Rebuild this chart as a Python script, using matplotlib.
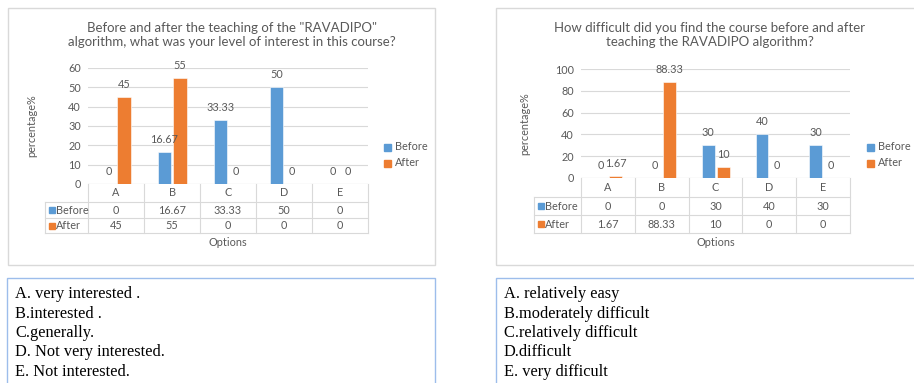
import numpy as np
import matplotlib.pyplot as plt
from matplotlib.patches import Rectangle

W, H = 914, 383

categories = ['A', 'B', 'C', 'D', 'E']

interest_before = [0, 16.67, 33.33, 50, 0]
interest_after = [45, 55, 0, 0, 0]
interest_title = 'Before and after the teaching of the "RAVADIPO"\nalgorithm, what was your level of interest in this course?'
interest_notes = ['A. very interested .', 'B.interested .', 'C.generally.',
                  'D. Not very interested.', 'E. Not interested.']

difficulty_before = [0, 0, 30, 40, 30]
difficulty_after = [1.67, 88.33, 10, 0, 0]
difficulty_title = 'How difficult did you find the course before and after\nteaching the RAVADIPO algorithm?'
difficulty_notes = ['A. relatively easy', 'B.moderately difficult', 'C.relatively difficult',
                    'D.difficult', 'E. very difficult']

BLUE = '#5B9BD5'
ORANGE = '#ED7D31'
GREY = '#595959'
GRID = '#D9D9D9'
SANS = ['Lato', 'DejaVu Sans']
SERIF = ['Liberation Serif', 'DejaVu Serif']

fig = plt.figure(figsize=(W / 100, H / 100), dpi=100)


def fx(px):
    return px / W


def fy(py):
    return 1 - py / H


def fmt(v):
    return ('%.2f' % v).rstrip('0').rstrip('.')


def panel(box, plot, rows, head_left, ymax, ystep, title, title_x, before, after, legend_x):
    # chart frame
    bx0, by0, bx1, by1 = box
    fig.patches.append(Rectangle((fx(bx0), fy(by1)), fx(bx1 - bx0), (by1 - by0) / H,
                                 transform=fig.transFigure, fill=False,
                                 edgecolor='#D9D9D9', linewidth=1))
    x0, ytop, x1, ybot = plot
    ax = fig.add_axes([fx(x0), fy(ybot), fx(x1 - x0), (ybot - ytop) / H])
    x = np.arange(len(categories))
    ax.bar(x - 0.135, before, 0.24, color=BLUE, edgecolor='white', linewidth=0.4, zorder=3)
    ax.bar(x + 0.145, after, 0.24, color=ORANGE, edgecolor='white', linewidth=0.4, zorder=3)
    for xi, b, a in zip(x, before, after):
        ax.annotate(fmt(b), (xi - 0.135, b), xytext=(0, 9), textcoords='offset points',
                    ha='center', va='center', fontsize=7.8, color=GREY, family=SANS)
        ax.annotate(fmt(a), (xi + 0.145, a), xytext=(0, 9), textcoords='offset points',
                    ha='center', va='center', fontsize=7.8, color=GREY, family=SANS)
    ax.set_xlim(-0.5, len(categories) - 0.5)
    ax.set_ylim(0, ymax)
    ax.set_yticks(np.arange(0, ymax + 1, ystep))
    ax.tick_params(axis='y', length=0, labelsize=7.8, labelcolor=GREY, pad=5)
    ax.set_xticks([])
    for lab in ax.get_yticklabels():
        lab.set_family(SANS)
    ax.grid(axis='y', color=GRID, linewidth=0.8, zorder=0)
    for s in ax.spines.values():
        s.set_visible(False)
    ax.axhline(0, color=GRID, linewidth=0.8, zorder=2)

    # data table under the axis
    r0, r1, r2, r3 = rows
    def line(xa, ya, xb, yb):
        fig.lines.append(plt.Line2D([fx(xa), fx(xb)], [fy(ya), fy(yb)],
                                    transform=fig.transFigure, color=GRID, linewidth=0.8))
    step = (x1 - x0) / len(categories)
    for i in range(len(categories) + 1):
        line(x0 + i * step, r0, x0 + i * step, r3)
    line(head_left, r1, head_left, r3)
    for r in (r1, r2, r3):
        line(head_left, r, x1, r)
    for i, c in enumerate(categories):
        cx = x0 + (i + 0.5) * step
        fig.text(fx(cx), fy((r0 + r1) / 2), c, ha='center', va='center',
                 fontsize=7.8, color=GREY, family=SANS)
        fig.text(fx(cx), fy((r1 + r2) / 2), fmt(before[i]), ha='center', va='center',
                 fontsize=7.8, color=GREY, family=SANS)
        fig.text(fx(cx), fy((r2 + r3) / 2), fmt(after[i]), ha='center', va='center',
                 fontsize=7.8, color=GREY, family=SANS)
    for (yc, name, col) in (((r1 + r2) / 2, 'Before', BLUE), ((r2 + r3) / 2, 'After', ORANGE)):
        fig.patches.append(Rectangle((fx(head_left + 4), fy(yc + 3)), fx(6), 6 / H,
                                     transform=fig.transFigure, color=col))
        fig.text(fx(head_left + 11), fy(yc), name, ha='left', va='center',
                 fontsize=7.8, color=GREY, family=SANS)

    # legend
    for (yc, name, col) in ((147, 'Before', BLUE), (163, 'After', ORANGE)):
        fig.patches.append(Rectangle((fx(legend_x), fy(yc + 3.5)), fx(7), 7 / H,
                                     transform=fig.transFigure, color=col))
        fig.text(fx(legend_x + 11), fy(yc), name, ha='left', va='center',
                 fontsize=7.8, color=GREY, family=SANS)

    fig.text(fx(title_x), fy(35), title, ha='center', va='center', fontsize=9.5,
             color=GREY, family=SANS, linespacing=1.3)
    fig.text(fx(x0 - 56), fy((ytop + ybot) / 2), 'percentage%', rotation=90,
             ha='center', va='center', fontsize=7.8, color=GREY, family=SANS)
    fig.text(fx((x0 + x1) / 2), fy(243), 'Options', ha='center', va='center',
             fontsize=7.8, color=GREY, family=SANS)
    return ax


def notes_box(x0, x1, lines_):
    fig.patches.append(Rectangle((fx(x0), fy(H + 5)), fx(x1 - x0), (H + 5 - 278) / H,
                                 transform=fig.transFigure, fill=False,
                                 edgecolor='#9DBDEB', linewidth=1))
    for i, t in enumerate(lines_):
        fig.text(fx(x0 + 8), fy(294 + i * 19.5), t, ha='left', va='center',
                 fontsize=11.8, color='black', family=SERIF)


panel((8, 8, 435, 265), (88, 68, 368, 184), (184, 202, 218, 233), 45, 60, 10,
      interest_title, 232, interest_before, interest_after, 384)
panel((496, 8, 918, 265), (581, 69, 850, 178), (178, 197, 215, 233), 534, 100, 20,
      difficulty_title, 710, difficulty_before, difficulty_after, 867)

notes_box(7, 435, interest_notes)
notes_box(496, 918, difficulty_notes)

fig.savefig('out.png', dpi=100)
